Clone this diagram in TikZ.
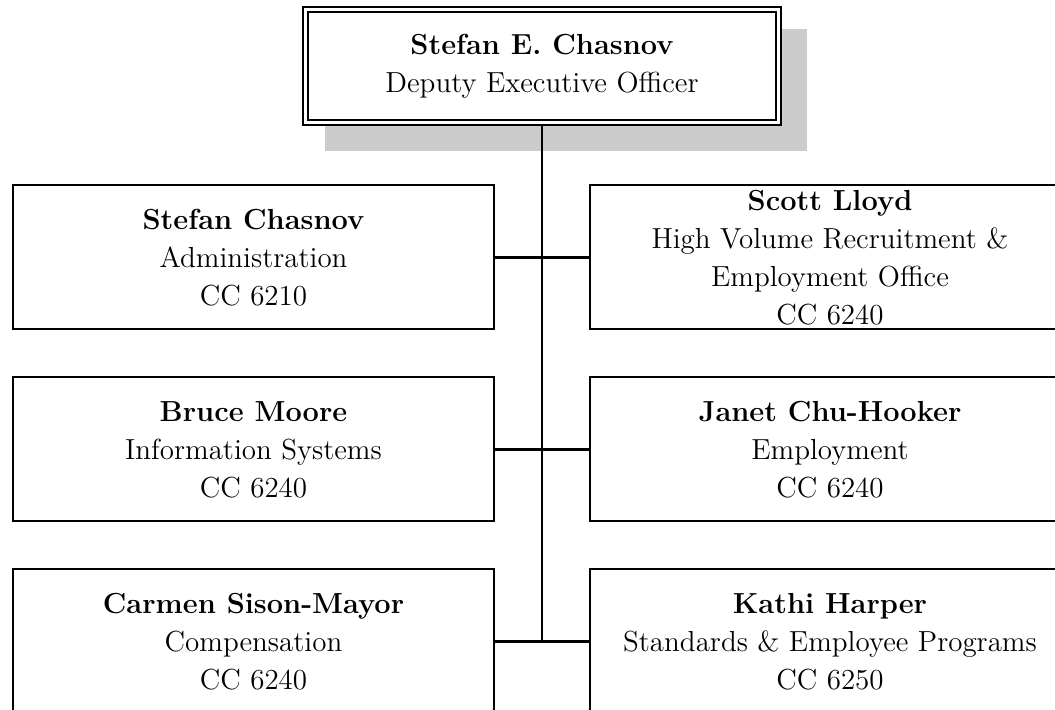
\documentclass[tikz,border=0pt]{standalone}
\usepackage{fontspec}
\usetikzlibrary{positioning,backgrounds}

\begin{document}
\begin{tikzpicture}[x=0.5pt,y=-0.5pt,line width=1pt,node distance=24pt,
	unit/.style={draw,minimum width=240.5pt,minimum height=72pt,inner sep=0pt,outer sep=0pt,align=center,font=\fontsize{14.5}{19}\selectfont},
	chief/.style={unit,double,double distance=1.5pt,line width=0.9pt,minimum width=236.7pt,minimum height=56.7pt,outer sep=1.65pt,fill=white},
	every edge/.style={draw,line width=1.1pt}]
		\useasboundingbox (0,0) rectangle (1055,710);
		\clip (0,0) rectangle (1055,710);
		
		\node[chief] (deo) at (542,66) {\textbf{Stefan E. Chasnov}\\Deputy Executive Officer};
		\node[unit] (adm) at (253.5,257.5) {\textbf{Stefan Chasnov}\\Administration\\CC 6210};
		\node[unit] (hvr) [right=47.75pt of adm] {\textbf{Scott Lloyd}\\High Volume Recruitment \&\\Employment Office\\CC 6240};
		\node[unit] (isy) [below=of adm] {\textbf{Bruce Moore}\\Information Systems\\CC 6240};
		\node[unit] (emp) [below=of hvr] {\textbf{Janet Chu-Hooker}\\Employment\\CC 6240};
		\node[unit] (cmp) [below=of isy] {\textbf{Carmen Sison-Mayor}\\Compensation\\CC 6240};
		\node[unit] (sep) [below=of emp] {\textbf{Kathi Harper}\\Standards \& Employee Programs\\CC 6250};
		
		\begin{pgfonlayer}{background}
			\fill[black!20] ([shift={(23,23)}]deo.north west) rectangle ([shift={(25,25)}]deo.south east);
		\end{pgfonlayer}
		
		\path (deo) edge (deo |- cmp);
		\path (adm) edge (hvr);
		\path (isy) edge (emp);
		\path (cmp) edge (sep);
\end{tikzpicture}
\end{document}
